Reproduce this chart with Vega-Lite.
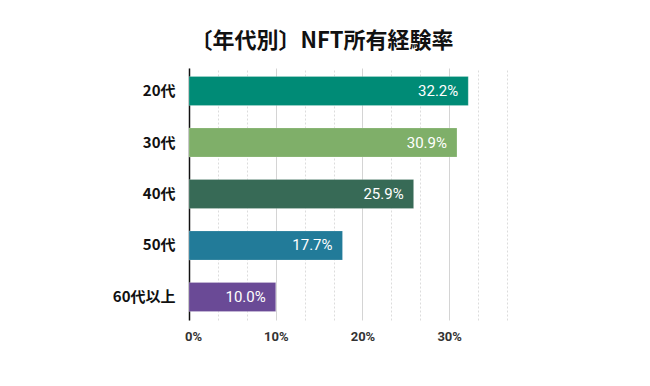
{
  "$schema": "https://vega.github.io/schema/vega-lite/v6.json",
  "autosize": {"type": "none"},
  "padding": {"left": 189, "top": 68, "right": 143, "bottom": 66},
  "width": 318,
  "height": 252,
  "background": "white",
  "title": {
    "text": "〔年代別〕NFT所有経験率",
    "font": "Noto Sans CJK JP",
    "fontSize": 22,
    "fontWeight": "bold",
    "color": "#111111",
    "anchor": "middle",
    "dx": -26,
    "offset": 15
  },
  "data": {
    "values": [
      {"age": "20代", "value": 0.322},
      {"age": "30代", "value": 0.309},
      {"age": "40代", "value": 0.259},
      {"age": "50代", "value": 0.177},
      {"age": "60代以上", "value": 0.100}
    ]
  },
  "config": {"view": {"stroke": null}},
  "encoding": {
    "y": {
      "field": "age",
      "type": "nominal",
      "sort": ["20代", "30代", "40代", "50代", "60代以上"],
      "scale": {"paddingInner": 0.434, "paddingOuter": 0.164},
      "axis": {
        "title": null,
        "ticks": false,
        "domain": true,
        "domainColor": "#111111",
        "domainWidth": 1.5,
        "labelFont": "Noto Sans CJK JP",
        "labelFontWeight": "bold",
        "labelFontSize": 15,
        "labelColor": "#111111",
        "labelPadding": 14
      }
    },
    "x": {
      "field": "value",
      "type": "quantitative",
      "scale": {"domain": [0, 0.36667], "nice": false, "zero": true},
      "axis": {
        "title": null,
        "values": [0, 0.03333, 0.06667, 0.1, 0.13333, 0.16667, 0.2, 0.23333, 0.26667, 0.3, 0.33333, 0.36667],
        "labelExpr": "abs(datum.value*10 - round(datum.value*10)) < 0.01 ? format(datum.value, '.0%') : ''",
        "labelOverlap": false,
        "labelFlush": false,
        "labelBound": false,
        "ticks": false,
        "domain": false,
        "grid": true,
        "gridColor": {"condition": {"test": "abs(datum.value*10 - round(datum.value*10)) < 0.01", "value": "#d4d4d4"}, "value": "#dcdcdc"},
        "gridDash": {"condition": {"test": "abs(datum.value*10 - round(datum.value*10)) < 0.01", "value": []}, "value": [2, 2]},
        "gridWidth": 1,
        "labelFont": "Roboto",
        "labelFontWeight": "bold",
        "labelFontSize": 13,
        "labelColor": "#333333",
        "labelPadding": 10,
        "labelOffset": {"condition": {"test": "datum.value == 0", "value": 4}, "value": 0}
      }
    }
  },
  "layer": [
    {
      "mark": {"type": "bar", "stroke": "#ffffff", "strokeOpacity": 0.4, "strokeWidth": 0.5},
      "encoding": {
        "color": {
          "field": "age",
          "type": "nominal",
          "legend": null,
          "scale": {
            "domain": ["20代", "30代", "40代", "50代", "60代以上"],
            "range": ["#008b76", "#7faf69", "#376a56", "#227b99", "#6a4a96"]
          }
        }
      }
    },
    {
      "mark": {"type": "text", "align": "right", "baseline": "middle", "dx": -10, "color": "#ffffff", "font": "Roboto", "fontSize": 15},
      "encoding": {
        "text": {"field": "value", "type": "quantitative", "format": ".1%"}
      }
    }
  ]
}
